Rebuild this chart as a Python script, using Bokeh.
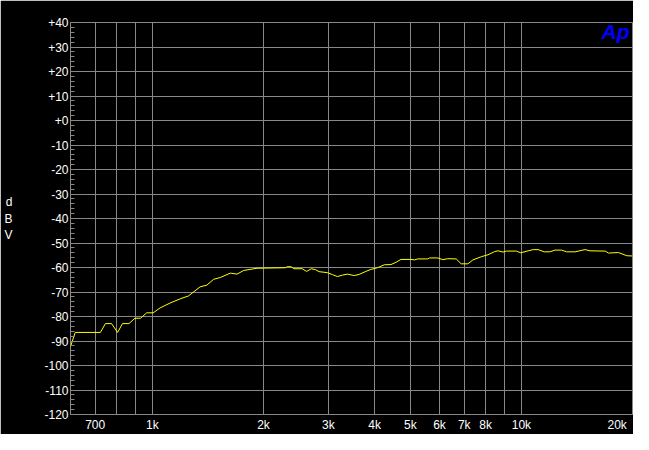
from bokeh.plotting import figure
from bokeh.models import Range1d, FixedTicker, SingleIntervalTicker, Label
from bokeh.embed import file_html
from bokeh.resources import INLINE

# ---- data ----
freq_hz = [600, 618, 723, 746, 775, 805, 830, 864, 897, 929,
           965, 1005, 1049, 1117, 1189, 1253, 1347, 1405, 1466, 1527,
           1626, 1696, 1769, 1921, 2295, 2319, 2377, 2418, 2547, 2618,
           2696, 2770, 2829, 2979, 3075, 3172, 3273, 3378, 3523, 3634,
           3789, 3908, 4074, 4249, 4431, 4571, 4716, 5022, 5128, 5236,
           5572, 5635, 5933, 6124, 6319, 6658, 6869, 7161, 7390, 7785,
           8118, 8465, 8643, 8917, 9104, 9692, 9963, 10428, 10759, 11103,
           11527, 11948, 12327, 12847, 13258, 13977, 14877, 15351, 16866, 17215,
           18323, 19310, 20000]
level_dbv = [-92.3, -86.5, -86.5, -82.9, -82.9, -86.5, -82.9, -82.9, -80.7, -80.7,
             -78.5, -78.5, -76.5, -74.5, -72.8, -71.6, -67.9, -67.2, -64.8, -64.1,
             -62.3, -62.7, -61.2, -60.3, -60.1, -59.7, -59.7, -60.5, -60.5, -61.6,
             -60.5, -60.9, -61.7, -62.1, -62.9, -63.7, -63.1, -62.7, -63.3, -62.8,
             -61.6, -60.8, -60.1, -58.9, -58.8, -57.9, -56.7, -56.7, -56.9, -56.5,
             -56.5, -56.1, -56.1, -56.8, -56.4, -56.5, -58.5, -58.5, -56.9, -55.6,
             -54.8, -53.5, -53.2, -53.7, -53.3, -53.3, -54.0, -53.2, -52.7, -52.7,
             -53.6, -53.6, -52.9, -52.9, -53.6, -53.6, -52.7, -53.2, -53.3, -54.1,
             -53.9, -55.2, -55.3]

x_ticks = [700, 800, 900, 1000, 2000, 3000, 4000, 5000, 6000, 7000, 8000, 9000, 10000, 20000]
x_tick_labels = ["700", "", "", "1k", "2k", "3k", "4k", "5k", "6k", "7k", "8k", "", "10k", "20k"]
y_ticks = [40, 30, 20, 10, 0, -10, -20, -30, -40, -50, -60, -70, -80, -90, -100, -110, -120]
y_tick_labels = ["+40", "+30", "+20", "+10", "+0", "-10", "-20", "-30", "-40", "-50",
                 "-60", "-70", "-80", "-90", "-100", "-110", "-120"]
y_title = "d\nB\nV"
logo_text = "Ap"

GRID = "#888888"
FONT = "Liberation Sans"
W, H = 633, 434
BL, BR, BT, BB = 70, 1, 22, 17

p = figure(width=W, height=H, x_axis_type="log",
           x_range=Range1d(600, 20000), y_range=Range1d(-120, 40),
           output_backend="svg", toolbar_location=None,
           min_border_left=BL, min_border_right=BR, min_border_top=BT, min_border_bottom=BB)
p.background_fill_color = "black"
p.border_fill_color = "black"
p.outline_line_color = GRID
p.outline_line_width = 1

p.line(freq_hz, level_dbv, line_color="#ffff00", line_width=1)

# x axis
xlabels = {t: l for t, l in zip(x_ticks, x_tick_labels)}
xlabels[20000] = "20k" + "\u00a0" * 2   # AP shifts the last label left of the edge
p.xaxis.ticker = FixedTicker(ticks=x_ticks, minor_ticks=[])
p.xaxis.major_label_overrides = xlabels
p.xaxis.major_tick_in = 0
p.xaxis.major_tick_out = 0
p.xaxis.minor_tick_line_color = None
p.xaxis.axis_line_color = None
p.xaxis.major_label_standoff = 3
# y axis
p.yaxis.ticker = SingleIntervalTicker(interval=10, num_minor_ticks=5)
p.yaxis.major_label_overrides = {t: l for t, l in zip(y_ticks, y_tick_labels)}
p.yaxis.major_tick_in = 0
p.yaxis.major_tick_out = 0
p.yaxis.minor_tick_in = 4
p.yaxis.minor_tick_out = 0
p.yaxis.minor_tick_line_color = GRID
p.yaxis.axis_line_color = None
p.yaxis.major_label_standoff = 2
p.yaxis.axis_label = y_title
p.yaxis.axis_label_text_color = "white"
p.yaxis.axis_label_text_font = FONT
p.yaxis.axis_label_text_font_size = "12px"
p.yaxis.axis_label_text_font_style = "normal"
p.yaxis.axis_label_standoff = 29
try:
    p.yaxis.axis_label_orientation = "horizontal"
except Exception:
    pass

for ax in (p.xaxis[0], p.yaxis[0]):
    ax.major_label_text_color = "white"
    ax.major_label_text_font = FONT
    ax.major_label_text_font_size = "12px"

p.xgrid.grid_line_color = GRID
p.ygrid.grid_line_color = GRID
p.xgrid.grid_line_alpha = 1
p.ygrid.grid_line_alpha = 1

# Ap logo (screen units relative to the plot frame)
frame_w = W - BL - BR
frame_h = H - BT - BB
p.add_layout(Label(x=frame_w - 3, y=frame_h, x_units="screen", y_units="screen",
                   text=logo_text, text_color="#0000ff", text_font=FONT,
                   text_font_size="21px", text_font_style="bold italic",
                   text_align="right", text_baseline="top"))

open("out.html", "w").write(file_html(p, INLINE))
